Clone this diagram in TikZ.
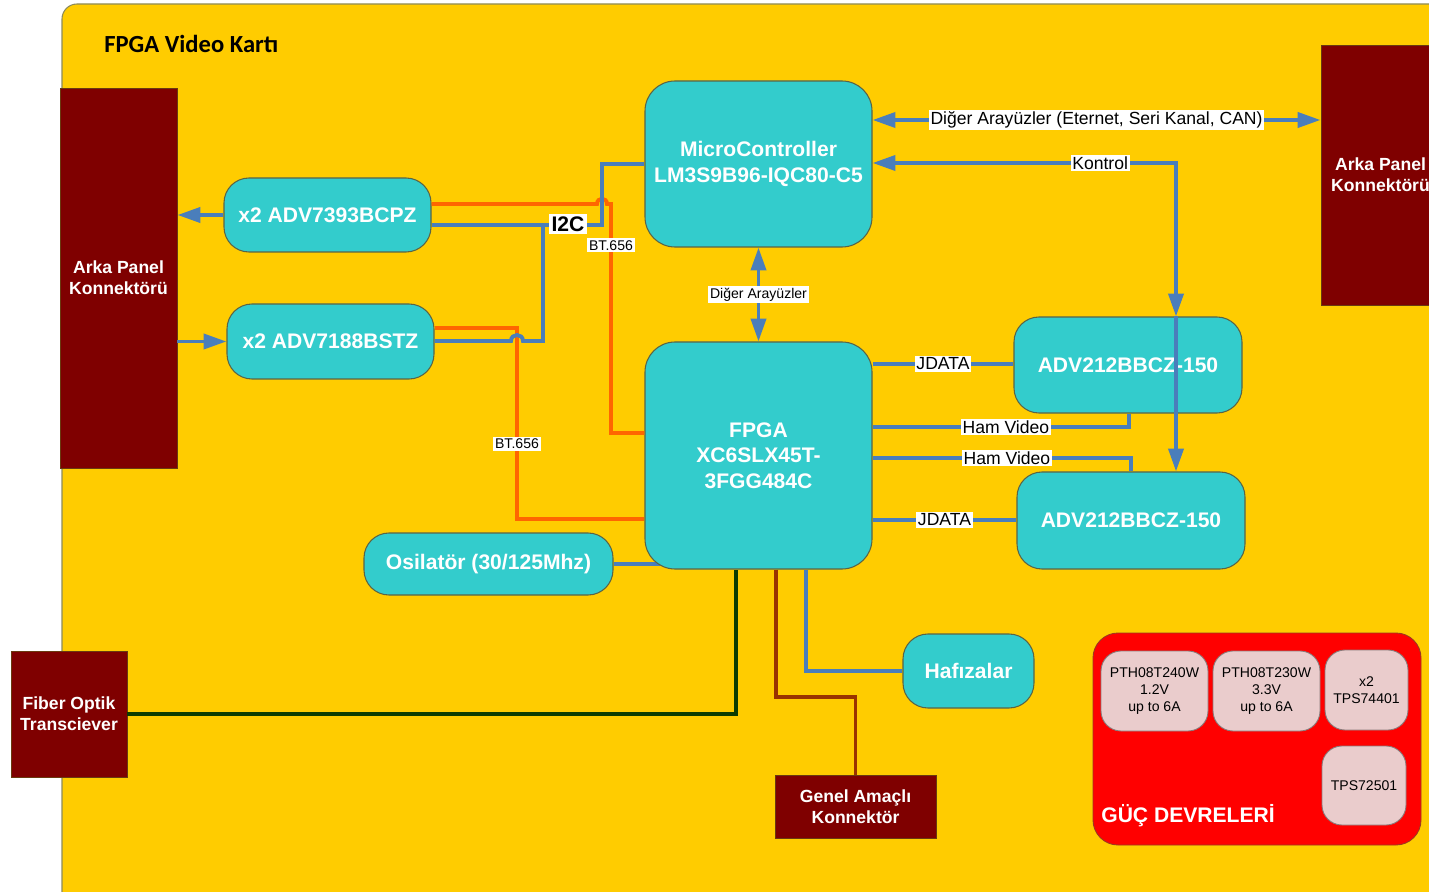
\documentclass[tikz,border=0pt]{standalone}
\usepackage{fontspec}
\setmainfont{Liberation Sans}
\newfontfamily\kartfont{Carlito}
\usetikzlibrary{arrows.meta,backgrounds}
\definecolor{boardcol}{HTML}{FFCC00}
\definecolor{boardedge}{HTML}{8C8A5A}
\definecolor{chipcol}{HTML}{33CCCC}
\definecolor{chipedge}{HTML}{5A6446}
\definecolor{plugcol}{HTML}{7F0000}
\definecolor{plugedge}{HTML}{6A3A10}
\definecolor{buscol}{HTML}{4A7EBB}
\definecolor{vidcol}{HTML}{FF6600}
\definecolor{fibcol}{HTML}{0D3B00}
\definecolor{gpiocol}{HTML}{993300}
\definecolor{powercol}{HTML}{FF0000}
\definecolor{poweredge}{HTML}{9A3A20}
\definecolor{regcol}{HTML}{EACCCC}
\definecolor{regedge}{HTML}{8A7A7A}
\begin{document}
\begin{tikzpicture}[x=0.2mm,y=-0.2mm,>={Triangle[length=13pt,width=8.5pt]},
  chip/.style={draw=chipedge,line width=0.6pt,fill=chipcol,rounded corners=5mm,text=white,align=center,inner sep=0pt,font=\bfseries\fontsize{12}{14.6}\selectfont},
  plug/.style={draw=plugedge,line width=0.5pt,fill=plugcol,text=white,align=center,inner sep=0pt,font=\bfseries\fontsize{10}{12}\selectfont},
  reg/.style={draw=regedge,line width=0.5pt,fill=regcol,rounded corners=4mm,align=center,inner sep=0pt,minimum width=21.4mm,minimum height=16mm,font=\fontsize{8}{9.9}\selectfont},
  tag/.style={fill=white,inner sep=1pt,font=\fontsize{10}{12}\selectfont},
  stag/.style={tag,font=\fontsize{8}{10}\selectfont},
  bus/.style={draw=buscol,line width=2.2pt},
  vid/.style={draw=vidcol,line width=2.2pt}]
\useasboundingbox (0,0) rectangle (1429,892);
% connectors and chips
\node[plug,minimum width=23.4mm,minimum height=76mm] (rearL) at (118.5,278) {Arka Panel\\Konnektörü};
\node[plug,minimum width=23.8mm,minimum height=52mm] (rearR) at (1380.5,175) {Arka Panel\\Konnektörü};
\node[plug,minimum width=23.2mm,minimum height=25.2mm] (fiber) at (69,714) {Fiber Optik\\Transciever};
\node[plug,minimum width=32.2mm,minimum height=12.6mm] (gpio) at (855.5,806.5) {Genel Amaçlı\\Konnektör};
\node[chip,minimum width=41.4mm,minimum height=14.8mm] (enc) at (327.5,215) {x2 ADV7393BCPZ};
\node[chip,minimum width=41.4mm,minimum height=15mm] (dec) at (330.5,341.5) {x2 ADV7188BSTZ};
\node[chip,rounded corners=6mm,minimum width=45.4mm,minimum height=33.2mm] (mcu) at (758.5,164) {MicroController\\LM3S9B96-IQC80-C5};
\node[chip,rounded corners=6mm,minimum width=45.4mm,minimum height=45.4mm] (fpga) at (758.5,455.5) {FPGA\\XC6SLX45T-\\3FGG484C};
\node[chip,minimum width=45.6mm,minimum height=19.2mm] (jpegA) at (1128,365) {ADV212BBCZ-150};
\node[chip,minimum width=45.6mm,minimum height=19.4mm] (jpegB) at (1131,520.5) {ADV212BBCZ-150};
\node[chip,minimum width=49.8mm,minimum height=12.4mm] (osc) at (488.5,564) {Osilatör (30/125Mhz)};
\node[chip,minimum width=26.2mm,minimum height=14.8mm] (mem) at (968.5,671) {Hafızalar};
% power
\node[draw=poweredge,line width=0.5pt,fill=powercol,rounded corners=5mm,minimum width=65.6mm,minimum height=42.4mm] (pwr) at (1257,739) {};
\node[anchor=west,inner sep=0pt,text=white,font=\bfseries\fontsize{12}{14}\selectfont] (pwrlbl) at (1101,816) {GÜÇ DEVRELERİ};
\node[reg] (pthA) at (1154.5,691) {PTH08T240W\\1.2V\\up to 6A};
\node[reg] (pthB) at (1266.5,691) {PTH08T230W\\3.3V\\up to 6A};
\node[reg,minimum width=16.6mm] (tpsA) at (1366.5,690) {x2\\TPS74401};
\node[reg,minimum width=16.8mm,minimum height=15.8mm] (tpsB) at (1364,785.5) {TPS72501};
\node[anchor=west,inner sep=0pt,font=\kartfont\bfseries\fontsize{14}{17}\selectfont] (title) at (104,44) {FPGA Video Kartı};
\begin{scope}[on background layer]
  \draw[draw=boardedge,line width=0.6pt,fill=boardcol,rounded corners=3mm] (62,4) rectangle (1470,910);
  \draw[bus] (osc.east) -- (fpga.center|-osc.east);
\end{scope}
% video side
\draw[bus,->] (enc.west) -- (rearL.east|-enc.west);
\draw[bus,->] (rearL.east|-dec.west) -- (dec.west);
\draw[vid] (enc.east|-0,204) -- (597,204) .. controls (597,197) and (607,197) .. (607,204) -- (611,204) |- (fpga.west|-0,433)
  node[stag,pos=0.09] (bt1) {BT.656};
\draw[vid] (dec.east|-0,328) -- (517,328) |- (fpga.west|-0,519) node[stag,pos=0.304] (bt2) {BT.656};
\draw[bus] (enc.east|-0,225) -- (602,225) |- (mcu.west);
\draw[bus] (dec.east|-0,341) -- (511,341) .. controls (511,333) and (523,333) .. (523,341) -- (543,341) -- (543,225);
\node[tag,inner sep=1.5pt,font=\bfseries\fontsize{12}{14}\selectfont] (i2c) at (568,224) {I2C};
% microcontroller
\draw[bus,<->] (mcu.south) -- (fpga.north) node[stag,midway] (misc) {Diğer Arayüzler};
\draw[bus,<->] (mcu.east|-0,120) -- (rearR.west|-0,120) node[tag,midway] (ifc) {Diğer Arayüzler (Eternet, Seri Kanal, CAN)};
\draw[bus,<->] (mcu.east|-0,163) -| (jpegA.north-|1176,0) node[tag,pos=0.375] (ctl) {Kontrol};
\draw[bus,->] (jpegA.north-|1176,0) -- (jpegB.north-|1176,0);
% fpga to codecs
\draw[bus] (fpga.east|-0,364) -- (jpegA.west|-0,364) node[tag,midway] (jdA) {JDATA};
\draw[bus] (fpga.east|-0,427) -| (jpegA.south-|1129,0) node[tag,pos=0.26] (hamA) {Ham Video};
\draw[bus] (fpga.east|-0,458) -| (jpegB.north-|1131,0) node[tag,pos=0.26] (hamB) {Ham Video};
\draw[bus] (fpga.east|-0,520) -- (jpegB.west|-0,520) node[tag,midway] (jdB) {JDATA};
% fpga bottom
\draw[draw=fibcol,line width=2.2pt] (fiber.east) -| (fpga.south-|736,0);
\draw[draw=gpiocol,line width=1.8pt] (fpga.south-|776,0) -- (776,697) -| (gpio.north);
\draw[bus,line width=1.8pt] (fpga.south-|806,0) |- (mem.west);
\end{tikzpicture}
\end{document}
